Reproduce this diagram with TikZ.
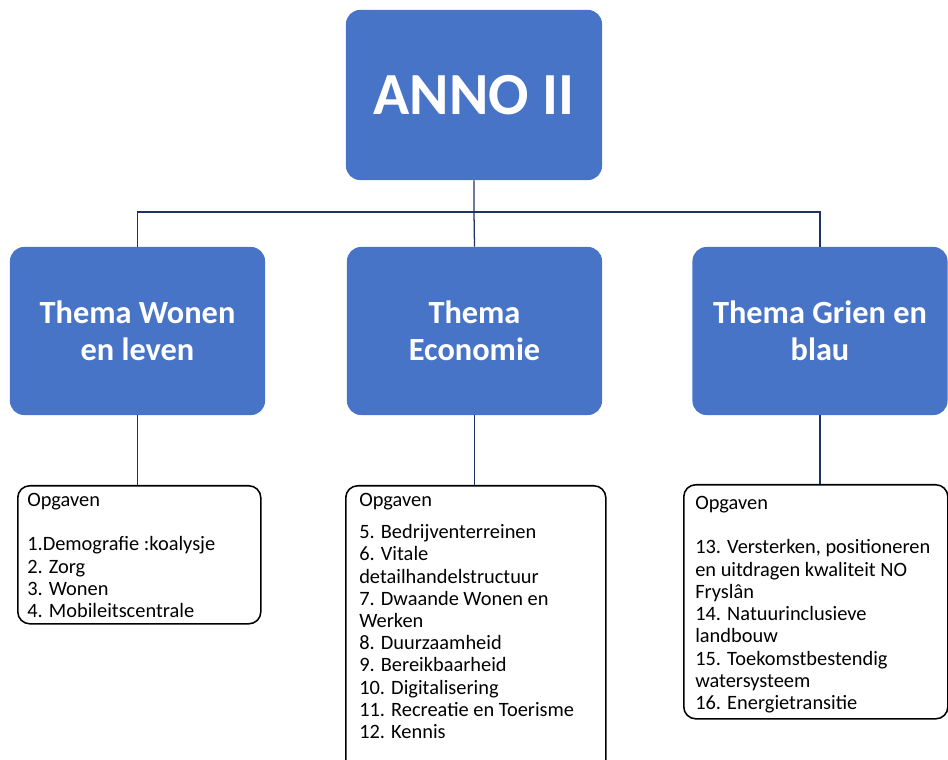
\documentclass[tikz,border=0pt]{standalone}
\usepackage{fontspec}
\setmainfont{Carlito}
\definecolor{annoblauw}{RGB}{72,116,200}
\definecolor{lijnblauw}{RGB}{30,50,100}

\begin{document}
\begin{tikzpicture}[
        x=0.025cm, y=-0.025cm,
        thema/.style={rectangle, rounded corners=0.35cm, fill=annoblauw, text=white, align=center,
            font=\fontsize{23}{26.5}\selectfont\bfseries, minimum width=6.375cm, minimum height=4.2cm},
        opgaven/.style={rectangle, rounded corners=0.3cm, draw=black, line width=1.1pt, anchor=north west},
        opgtekst/.style={anchor=north west, inner sep=0pt, align=left, font=\fontsize{14.5}{15.8}\selectfont},
        lijn/.style={draw=lijnblauw, line width=0.9pt}
    ]
        \clip (0,0) rectangle (948,760);

        % Hoofdblok en thema's
        \node[thema, minimum width=6.4cm, minimum height=4.25cm, font=\fontsize{42.5}{48}\selectfont\bfseries] (anno) at (474,95) {ANNO II};
        \node[thema] (wonen) at (137.5,331) {Thema Wonen\\en leven};
        \node[thema] (econ) at (474.5,331) {Thema\\Economie};
        \node[thema] (groen) at (820,331) {Thema Grien en\\blau};

        % Opgaven per thema
        \node[opgaven, minimum width=6.075cm, minimum height=3.45cm] (opg1) at (17,485) {};
        \node[opgaven, minimum width=6.5cm, minimum height=7.5cm] (opg2) at (345,485) {};
        \node[opgaven, minimum width=6.6cm, minimum height=5.85cm] (opg3) at (683,484) {};

        \node[opgtekst] (tekst1) at ([shift={(10,8)}]opg1.north west) {Opgaven\\[15.8pt]
            1.Demografie :koalysje\\ 2. Zorg\\ 3. Wonen\\ 4. Mobileitscentrale};
        \node[opgtekst] (tekst2) at ([shift={(14,8)}]opg2.north west) {Opgaven\\[7pt]
            5. Bedrijventerreinen\\ 6. Vitale\\ detailhandelstructuur\\ 7. Dwaande Wonen en\\ Werken\\
            8. Duurzaamheid\\ 9. Bereikbaarheid\\ 10. Digitalisering\\ 11. Recreatie en Toerisme\\ 12. Kennis};
        \node[opgtekst] (tekst3) at ([shift={(12,12)}]opg3.north west) {Opgaven\\[15.8pt]
            13. Versterken, positioneren\\ en uitdragen kwaliteit NO\\ Frysl\^an\\ 14. Natuurinclusieve\\ landbouw\\
            15. Toekomstbestendig\\ watersysteem\\ 16. Energietransitie};

        % Verbindingen
        \coordinate (fork) at (474,212);
        \draw[lijn] (anno.south) -- (fork) -- (econ.north);
        \draw[lijn] (wonen.north) |- (fork) -| (groen.north);
        \draw[lijn] (wonen.south) -- (wonen.south |- opg1.north);
        \draw[lijn] (econ.south) -- (econ.south |- opg2.north);
        \draw[lijn] (groen.south) -- (groen.south |- opg3.north);
    \end{tikzpicture}
\end{document}
